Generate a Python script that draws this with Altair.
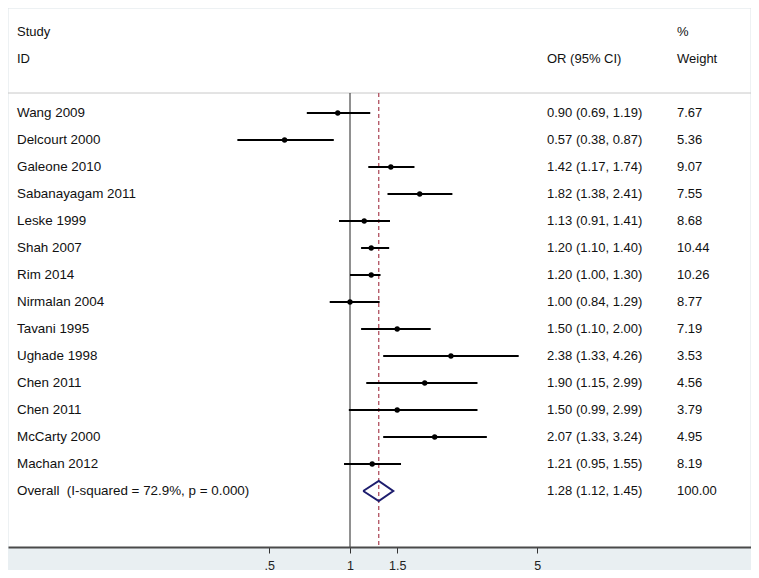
import altair as alt
import pandas as pd
import math

studies = ["Wang 2009", "Delcourt 2000", "Galeone 2010", "Sabanayagam 2011", "Leske 1999",
           "Shah 2007", "Rim 2014", "Nirmalan 2004", "Tavani 1995", "Ughade 1998",
           "Chen 2011", "Chen 2011", "McCarty 2000", "Machan 2012"]
or_est = [0.90, 0.57, 1.42, 1.82, 1.13, 1.20, 1.20, 1.00, 1.50, 2.38, 1.90, 1.50, 2.07, 1.21]
ci_low = [0.69, 0.38, 1.17, 1.38, 0.91, 1.10, 1.00, 0.84, 1.10, 1.33, 1.15, 0.99, 1.33, 0.95]
ci_high = [1.19, 0.87, 1.74, 2.41, 1.41, 1.40, 1.30, 1.29, 2.00, 4.26, 2.99, 2.99, 3.24, 1.55]
weights = [7.67, 5.36, 9.07, 7.55, 8.68, 10.44, 10.26, 8.77, 7.19, 3.53, 4.56, 3.79, 4.95, 8.19]

overall_label = "Overall\u00a0\u00a0(I-squared = 72.9%, p = 0.000)"
overall_est = 1.28
overall_low = 1.12
overall_high = 1.45
overall_weight = 100.00
null_value = 1

tick_values = [0.5, 1, 1.5, 5]
tick_labels = [".5", "1", "1.5", "5"]

FONT = "Liberation Sans"
FS = 13
FS_STUDY = 13.4
W, H = 743, 539

df = pd.DataFrame({
    "study": studies, "or": or_est, "lo": ci_low, "hi": ci_high,
    "w": weights, "row": list(range(len(studies))),
})
df["ortxt"] = [f"{o:.2f} ({l:.2f}, {h:.2f})" for o, l, h in zip(or_est, ci_low, ci_high)]
df["wtxt"] = [f"{w:.2f}" for w in weights]

n = len(studies)
ov_row = n
text_df = pd.DataFrame({
    "study": studies + [overall_label],
    "ortxt": list(df["ortxt"]) + [f"{overall_est:.2f} ({overall_low:.2f}, {overall_high:.2f})"],
    "wtxt": list(df["wtxt"]) + [f"{overall_weight:.2f}"],
    "row": list(range(n)) + [ov_row],
})

dh = 0.37
diamond = pd.DataFrame({
    "x": [overall_low, overall_est, overall_high, overall_est, overall_low],
    "y": [ov_row, ov_row - dh, ov_row, ov_row + dh, ov_row],
    "ord": [0, 1, 2, 3, 4],
})

# pixel mapping: 116.4 px per ln unit, x=1 at 342 px
k = 116.4
x0 = 342
xdom = [math.exp(-x0 / k), math.exp((W - x0) / k)]
# rows: row i at 105 + 27 i px
ydom = [-105 / 27, (H - 105) / 27]

xs = alt.Scale(type="log", domain=xdom, nice=False, zero=False)
ys = alt.Scale(domain=ydom, reverse=True, nice=False, zero=False)

label_expr = " : ".join(
    [f"datum.value == {v} ? '{l}'" for v, l in zip(tick_values, tick_labels)] + ["''"]
)

one = pd.DataFrame({"a": [0]})
base_one = alt.Chart(one)

frame = base_one.mark_rect(fill="white", stroke="#dce3e7", strokeWidth=1).encode(
    x=alt.value(0), x2=alt.value(W), y=alt.value(0), y2=alt.value(562))
band = base_one.mark_rect(fill="#e9eff2").encode(
    x=alt.value(0), x2=alt.value(W), y=alt.value(H), y2=alt.value(562))
sep = base_one.mark_rule(color="#c8c8c8", strokeWidth=1).encode(
    x=alt.value(0), x2=alt.value(W), y=alt.value(85))

hdr = pd.DataFrame({
    "t": ["Study", "ID", "OR (95% CI)", "%", "Weight"],
    "px": [9, 9, 539, 669, 669],
    "py": [24, 51, 51, 24, 51],
})
headers = alt.Chart(hdr).mark_text(align="left", baseline="middle", font=FONT, fontSize=FS,
                                   color="#111").encode(
    text="t:N", x=alt.X("px:Q", scale=None), y=alt.Y("py:Q", scale=None))

null_df = pd.DataFrame({"v": [null_value]})
null_line = alt.Chart(null_df).mark_rule(color="#222", strokeWidth=1).encode(
    x=alt.X("v:Q", scale=xs, axis=alt.Axis(values=tick_values, labelExpr=label_expr, title=None,
                                          grid=False, zindex=1)),
    y=alt.value(85), y2=alt.value(H))

ov_df = pd.DataFrame({"v": [overall_est]})
ov_line = alt.Chart(ov_df).mark_rule(color="#b0505f", strokeWidth=1.3, strokeDash=[4, 3]).encode(
    x=alt.X("v:Q", scale=xs), y=alt.value(85), y2=alt.value(H))

ci = alt.Chart(df).mark_rule(color="black", strokeWidth=2).encode(
    x=alt.X("lo:Q", scale=xs), x2="hi:Q", y=alt.Y("row:Q", scale=ys, axis=None))
pts = alt.Chart(df).mark_point(filled=True, color="black", size=28, opacity=1).encode(
    x=alt.X("or:Q", scale=xs), y=alt.Y("row:Q", scale=ys))

dia = alt.Chart(diamond).mark_line(color="#1d1d6e", strokeWidth=2).encode(
    x=alt.X("x:Q", scale=xs), y=alt.Y("y:Q", scale=ys), order="ord:Q")

tstyle = dict(align="left", baseline="middle", font=FONT, fontSize=FS, color="#111")
t_study = alt.Chart(text_df).mark_text(**{**tstyle, "fontSize": FS_STUDY}).encode(
    text="study:N", x=alt.value(9), y=alt.Y("row:Q", scale=ys))
t_or = alt.Chart(text_df).mark_text(**tstyle).encode(
    text="ortxt:N", x=alt.value(539), y=alt.Y("row:Q", scale=ys))
t_w = alt.Chart(text_df).mark_text(**tstyle).encode(
    text="wtxt:N", x=alt.value(669), y=alt.Y("row:Q", scale=ys))

chart = alt.layer(
    frame, band, sep, headers, null_line, ov_line, ci, pts, dia, t_study, t_or, t_w
).resolve_scale(x="shared", y="independent").properties(
    width=W, height=H,
    autosize=alt.AutoSizeParams(type="none"),
    padding={"left": 0, "top": 0, "right": 0, "bottom": 23},
    background="white",
).configure_view(stroke=None).configure_axis(
    labelFont=FONT, labelFontSize=12.5, labelColor="#222", domainColor="#4a4a4a",
    domainWidth=2, tickColor="#333", tickSize=6, tickWidth=1, labelPadding=6,
)

chart.save("out.html", embed_options={"renderer": "svg", "actions": False})
